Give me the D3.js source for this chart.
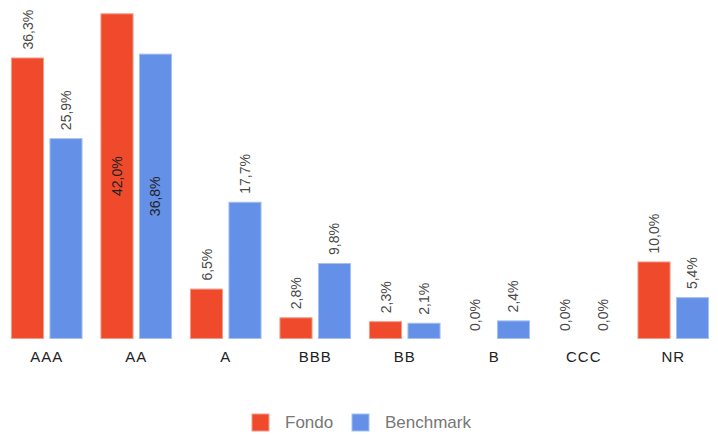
<!DOCTYPE html>
<html><head><meta charset="utf-8">
<script src="https://cdn.jsdelivr.net/npm/d3@7"></script>
<style>
html,body{margin:0;padding:0;background:#fff;}
svg{display:block;font-family:Arial,"Liberation Sans",sans-serif;}
</style></head>
<body><svg id="c" width="718" height="435"></svg>
<script>
const categories = ["AAA","AA","A","BBB","BB","B","CCC","NR"];
const fondo = [36.3, 42.0, 6.5, 2.8, 2.3, 0.0, 0.0, 10.0];
const benchmark = [25.9, 36.8, 17.7, 9.8, 2.1, 2.4, 0.0, 5.4];
const seriesNames = ["Fondo","Benchmark"];
const seriesColors = ["#ef4a2b","#6490e8"];
const seriesStroke = ["#f69a88","#a6c0f2"];

const svg = d3.select("#c");
const x0 = d3.scaleBand().domain(categories).range([2,718]).paddingInner(0.2).paddingOuter(0.1);
const x1 = d3.scaleBand().domain(seriesNames).range([0,x0.bandwidth()]).paddingInner(0.14);
const y = d3.scaleLinear().domain([0,42]).range([339,13.3]);
const fmt = v => d3.format(".1f")(v).replace(".", ",") + "%";

const rows = categories.map((c,i)=>({cat:c, vals:[{s:"Fondo",v:fondo[i],k:0},{s:"Benchmark",v:benchmark[i],k:1}]}));

const g = svg.append("g");
const groups = g.selectAll("g.grp").data(rows).join("g").attr("class","grp")
  .attr("transform", d=>`translate(${x0(d.cat)},0)`);

groups.selectAll("rect").data(d=>d.vals.filter(e=>e.v>0)).join("rect")
  .attr("x", d=>x1(d.s)+0.5).attr("width", x1.bandwidth()-1)
  .attr("y", d=>y(d.v)+0.5).attr("height", d=>Math.max(0,y(0)-y(d.v)-1))
  .attr("fill", d=>seriesColors[d.k]).attr("stroke", d=>seriesStroke[d.k]).attr("stroke-width",1);

groups.selectAll("text.val").data(d=>d.vals).join("text").attr("class","val")
  .attr("font-size","14px").text(d=>fmt(d.v))
  .each(function(d){
    const t = d3.select(this);
    const len = this.getComputedTextLength();
    const cx = x1(d.s) + x1.bandwidth()/2;
    const top = y(d.v);
    if (top - 8 - len < 7.5) {
      const cy = (top + y(0))/2;
      t.attr("text-anchor","middle").attr("dominant-baseline","central")
       .attr("fill","#222").attr("transform",`translate(${cx},${cy}) rotate(-90)`);
    } else {
      t.attr("text-anchor","start").attr("dominant-baseline","central")
       .attr("fill","#4a4a4a").attr("transform",`translate(${cx},${top-8}) rotate(-90)`);
    }
  });

const xAxis = svg.append("g").attr("transform","translate(0,339)")
  .call(d3.axisBottom(x0).tickSize(0).tickPadding(12));
xAxis.select(".domain").remove();
xAxis.selectAll("text").attr("font-size","15px").attr("fill","#222")
  .attr("font-family","Arial, 'Liberation Sans', sans-serif").style("letter-spacing","1px");

const legendX = [252, 352];
const lg = svg.append("g").selectAll("g").data(seriesNames).join("g")
  .attr("transform",(d,i)=>`translate(${legendX[i]},414)`);
lg.append("rect").attr("width",17).attr("height",17)
  .attr("fill",(d,i)=>seriesColors[i]).attr("stroke",(d,i)=>seriesStroke[i]).attr("stroke-width",1);
lg.append("text").attr("x",33).attr("y",8.5).attr("dominant-baseline","central")
  .attr("font-size","17px").attr("fill","#777").text(d=>d);
</script></body></html>
